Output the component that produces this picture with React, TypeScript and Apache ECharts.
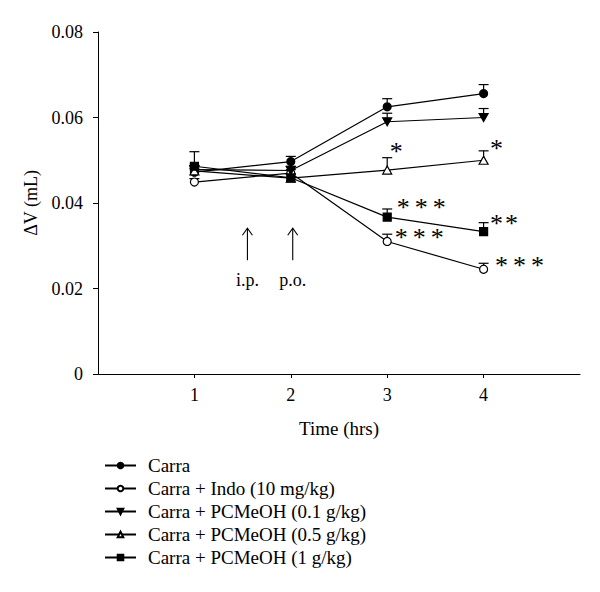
import React, { useEffect, useRef } from 'react';
import * as echarts from 'echarts';

const timePoints = [1, 2, 3, 4];
const seriesNames = [
  'Carra',
  'Carra + Indo (10 mg/kg)',
  'Carra + PCMeOH (0.1 g/kg)',
  'Carra + PCMeOH (0.5 g/kg)',
  'Carra + PCMeOH (1 g/kg)',
];
const carraMean = [0.0472, 0.0497, 0.0625, 0.0656];
const carraErr = [0.0008, 0.0012, 0.0019, 0.0021];
const indoMean = [0.0449, 0.0470, 0.0310, 0.0245];
const indoErr = [0.0008, 0.0008, 0.0017, 0.0014];
const pc01Mean = [0.0478, 0.0476, 0.0590, 0.0600];
const pc01Err = [0.0010, 0.0010, 0.0020, 0.0021];
const pc05Mean = [0.0475, 0.0458, 0.0477, 0.0500];
const pc05Err = [0.0010, 0.0010, 0.0029, 0.0022];
const pc1Mean = [0.0486, 0.0459, 0.0367, 0.0333];
const pc1Err = [0.0034, 0.0008, 0.0019, 0.0021];

const means = [carraMean, indoMean, pc01Mean, pc05Mean, pc1Mean];
const errs = [carraErr, indoErr, pc01Err, pc05Err, pc1Err];

// significance marks: series index, time point, text
const sigSeries = [3, 3, 4, 4, 1, 1];
const sigTime = [3, 4, 3, 4, 3, 4];
const sigText = ['*', '*', '* * *', '**', '* * *', '* * *'];

// dosing arrows
const arrowTime = [1.55, 2.02];
const arrowText = ['i.p.', 'p.o.'];

const yTicks = [0, 0.02, 0.04, 0.06, 0.08];
const xTicks = [1, 2, 3, 4];

const FONT = "'Liberation Serif', 'Times New Roman', serif";

// layout (pixel) offsets for significance marks relative to the error-bar top
const sigOffsetPx = [
  [9, -9],
  [13, -5],
  [16, -4],
  [13, -2.5],
  [14, 0],
  [18, -1],
];

const symbolStyles = [
  { symbol: 'circle', fill: '#000' },
  { symbol: 'circle', fill: '#fff' },
  { symbol: 'path://M0,0 L10,0 L5,9 Z', fill: '#000' },
  { symbol: 'path://M5,0 L10,9 L0,9 Z', fill: '#fff' },
  { symbol: 'rect', fill: '#000' },
];
const symbolSizes = [8, 8, [9, 8], [9, 8], 8];

export default function App() {
  const ref = useRef<HTMLDivElement>(null);

  useEffect(() => {
    document.body.style.margin = '0';
    const chart = echarts.init(ref.current!, null, { renderer: 'svg' });

    const lineSeries = seriesNames.map((name, i) => ({
      name,
      type: 'line',
      data: timePoints.map((t, j) => [t, means[i][j]]),
      symbol: symbolStyles[i].symbol,
      symbolSize: symbolSizes[i],
      showSymbol: true,
      lineStyle: { color: '#000', width: 1.2 },
      itemStyle: { color: symbolStyles[i].fill, borderColor: '#000', borderWidth: 1.2 },
      z: 3,
    }));

    const errSeries = seriesNames.map((name, i) => ({
      name: 'err' + i,
      type: 'custom',
      data: timePoints.map((t, j) => [t, means[i][j], errs[i][j]]),
      encode: { x: 0, y: 1 },
      itemStyle: { color: '#000' },
      z: 2,
      renderItem: (params: any, api: any) => {
        const x = api.value(0);
        const y = api.value(1);
        const e = api.value(2);
        const p0 = api.coord([x, y]);
        const p1 = api.coord([x, y + e]);
        const st = { stroke: '#000', lineWidth: 1.2 };
        return {
          type: 'group',
          children: [
            { type: 'line', shape: { x1: p0[0], y1: p0[1], x2: p1[0], y2: p1[1] }, style: st },
            { type: 'line', shape: { x1: p1[0] - 5, y1: p1[1], x2: p1[0] + 5, y2: p1[1] }, style: st },
          ],
        };
      },
    }));

    const sigSeriesObj = {
      name: 'sig',
      type: 'custom',
      data: sigSeries.map((s, k) => {
        const j = timePoints.indexOf(sigTime[k]);
        return [sigTime[k], means[s][j] + errs[s][j], k];
      }),
      encode: { x: 0, y: 1 },
      itemStyle: { color: '#000' },
      z: 4,
      renderItem: (params: any, api: any) => {
        const x = api.value(0);
        const y = api.value(1);
        const k = api.value(2);
        const p = api.coord([x, y]);
        const off = sigOffsetPx[k];
        const text = sigText[k];
        const children: any[] = [];
        let cursor = 0;
        for (const ch of text) {
          if (ch === '*') {
            children.push({
              type: 'text',
              x: p[0] + off[0] + cursor,
              y: p[1] + off[1] + 3,
              style: {
                text: '*',
                font: `26px ${FONT}`,
                fill: '#000',
                align: 'center',
                verticalAlign: 'middle',
              },
            });
            cursor += 15;
          } else {
            cursor += 3;
          }
        }
        return { type: 'group', children };
      },
    };

    const arrowSeries = {
      name: 'arrows',
      type: 'custom',
      data: arrowTime.map((t, k) => [t, 0.0341, k]),
      encode: { x: 0, y: 1 },
      itemStyle: { color: '#000' },
      z: 4,
      renderItem: (params: any, api: any) => {
        const x = api.value(0);
        const k = api.value(2);
        const tip = api.coord([x, 0.0341]);
        const tail = api.coord([x, 0.0266]);
        const lab = api.coord([x, 0.0220]);
        const st = { stroke: '#000', lineWidth: 1.1, fill: null };
        return {
          type: 'group',
          children: [
            { type: 'line', shape: { x1: tip[0], y1: tip[1], x2: tail[0], y2: tail[1] }, style: st },
            {
              type: 'polyline',
              shape: { points: [[tip[0] - 5, tip[1] + 7], [tip[0], tip[1]], [tip[0] + 5, tip[1] + 7]] },
              style: st,
            },
            {
              type: 'text',
              x: lab[0],
              y: lab[1],
              style: {
                text: arrowText[k],
                font: `18px ${FONT}`,
                fill: '#000',
                align: 'center',
                verticalAlign: 'middle',
              },
            },
          ],
        };
      },
    };

    chart.setOption({
      animation: false,
      backgroundColor: '#fff',
      grid: { left: 98, right: 20, top: 32, bottom: 218, containLabel: false },
      legend: {
        orient: 'vertical',
        left: 99,
        top: 451,
        itemWidth: 31,
        itemHeight: 7,
        itemGap: 4,
        data: seriesNames,
        selectedMode: false,
        textStyle: { fontFamily: FONT, fontSize: 19, color: '#000', padding: [0, 0, 0, 7] },
      },
      xAxis: {
        type: 'value',
        min: 0,
        max: 5,
        interval: 1,
        name: 'Time (hrs)',
        nameLocation: 'middle',
        nameGap: 45,
        nameTextStyle: { fontFamily: FONT, fontSize: 19, color: '#000' },
        axisLine: { lineStyle: { color: '#000', width: 1 } },
        axisTick: { show: true, length: 4, lineStyle: { color: '#000' }, customValues: xTicks },
        axisLabel: {
          fontFamily: FONT,
          fontSize: 18,
          color: '#000',
          margin: 12,
          customValues: xTicks,
          formatter: (v: number) => String(v),
        },
        splitLine: { show: false },
      },
      yAxis: {
        type: 'value',
        min: 0,
        max: 0.08,
        interval: 0.02,
        name: 'ΔV (mL)',
        nameLocation: 'middle',
        nameGap: 58,
        nameTextStyle: { fontFamily: FONT, fontSize: 18, color: '#000' },
        axisLine: { show: true, lineStyle: { color: '#000', width: 1 } },
        axisTick: { show: true, length: 5, lineStyle: { color: '#000' } },
        axisLabel: {
          fontFamily: FONT,
          fontSize: 18,
          color: '#000',
          margin: 15,
          customValues: yTicks,
          formatter: (v: number) => (v === 0 ? '0' : v.toFixed(2)),
        },
        splitLine: { show: false },
      },
      series: [...errSeries, ...lineSeries, sigSeriesObj, arrowSeries],
    });

    return () => chart.dispose();
  }, []);

  return <div ref={ref} style={{ width: 600, height: 592 }} />;
}
